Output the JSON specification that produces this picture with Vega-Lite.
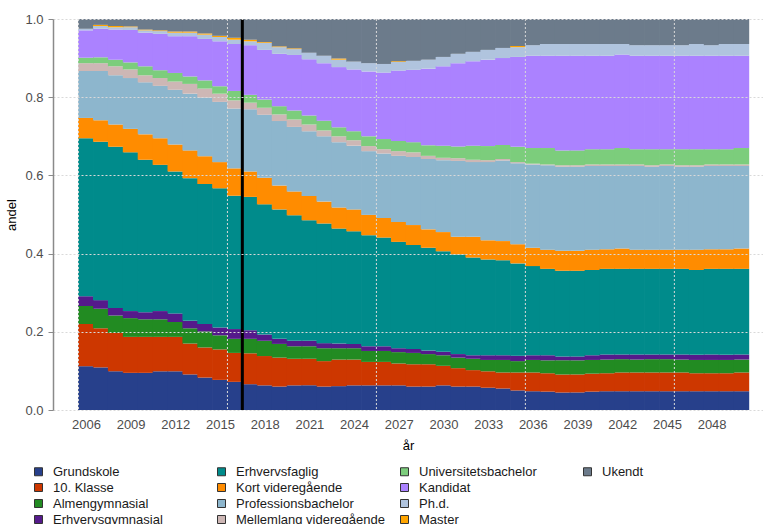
{
  "$schema": "https://vega.github.io/schema/vega-lite/v6.json",
  "width": 710,
  "height": 391,
  "autosize": {"type": "none"},
  "padding": {"left": 53, "top": 19, "right": 0, "bottom": 114},
  "background": "white",
  "config": {
    "view": {"stroke": null},
    "font": "Liberation Sans",
    "axis": {"labelFont": "Liberation Sans", "titleFont": "Liberation Sans"},
    "legend": {"labelFont": "Liberation Sans"}
  },
  "datasets": {
    "levels": [
      {"niveau": "Grundskole", "rank": 1},
      {"niveau": "10. Klasse", "rank": 2},
      {"niveau": "Almengymnasial", "rank": 3},
      {"niveau": "Erhvervsgymnasial", "rank": 4},
      {"niveau": "Erhvervsfaglig", "rank": 5},
      {"niveau": "Kort videregående", "rank": 6},
      {"niveau": "Professionsbachelor", "rank": 7},
      {"niveau": "Mellemlang videregående", "rank": 8},
      {"niveau": "Universitetsbachelor", "rank": 9},
      {"niveau": "Kandidat", "rank": 10},
      {"niveau": "Ph.d.", "rank": 11},
      {"niveau": "Master", "rank": 12},
      {"niveau": "Ukendt", "rank": 13}
    ],
    "shares": [
{"year":2006,"niveau":"Grundskole","andel":0.112},{"year":2006,"niveau":"10. Klasse","andel":0.108},{"year":2006,"niveau":"Almengymnasial","andel":0.046},{"year":2006,"niveau":"Erhvervsgymnasial","andel":0.025},{"year":2006,"niveau":"Erhvervsfaglig","andel":0.404},{"year":2006,"niveau":"Kort videregående","andel":0.052},{"year":2006,"niveau":"Professionsbachelor","andel":0.120},{"year":2006,"niveau":"Mellemlang videregående","andel":0.020},{"year":2006,"niveau":"Universitetsbachelor","andel":0.014},{"year":2006,"niveau":"Kandidat","andel":0.070},{"year":2006,"niveau":"Ph.d.","andel":0.004},{"year":2006,"niveau":"Master","andel":0.000},{"year":2006,"niveau":"Ukendt","andel":0.025},
{"year":2007,"niveau":"Grundskole","andel":0.109},{"year":2007,"niveau":"10. Klasse","andel":0.100},{"year":2007,"niveau":"Almengymnasial","andel":0.050},{"year":2007,"niveau":"Erhvervsgymnasial","andel":0.022},{"year":2007,"niveau":"Erhvervsfaglig","andel":0.405},{"year":2007,"niveau":"Kort videregående","andel":0.055},{"year":2007,"niveau":"Professionsbachelor","andel":0.126},{"year":2007,"niveau":"Mellemlang videregående","andel":0.020},{"year":2007,"niveau":"Universitetsbachelor","andel":0.015},{"year":2007,"niveau":"Kandidat","andel":0.073},{"year":2007,"niveau":"Ph.d.","andel":0.007},{"year":2007,"niveau":"Master","andel":0.003},{"year":2007,"niveau":"Ukendt","andel":0.015},
{"year":2008,"niveau":"Grundskole","andel":0.099},{"year":2008,"niveau":"10. Klasse","andel":0.098},{"year":2008,"niveau":"Almengymnasial","andel":0.045},{"year":2008,"niveau":"Erhvervsgymnasial","andel":0.019},{"year":2008,"niveau":"Erhvervsfaglig","andel":0.412},{"year":2008,"niveau":"Kort videregående","andel":0.057},{"year":2008,"niveau":"Professionsbachelor","andel":0.126},{"year":2008,"niveau":"Mellemlang videregående","andel":0.023},{"year":2008,"niveau":"Universitetsbachelor","andel":0.017},{"year":2008,"niveau":"Kandidat","andel":0.077},{"year":2008,"niveau":"Ph.d.","andel":0.006},{"year":2008,"niveau":"Master","andel":0.003},{"year":2008,"niveau":"Ukendt","andel":0.018},
{"year":2009,"niveau":"Grundskole","andel":0.095},{"year":2009,"niveau":"10. Klasse","andel":0.092},{"year":2009,"niveau":"Almengymnasial","andel":0.048},{"year":2009,"niveau":"Erhvervsgymnasial","andel":0.018},{"year":2009,"niveau":"Erhvervsfaglig","andel":0.406},{"year":2009,"niveau":"Kort videregående","andel":0.060},{"year":2009,"niveau":"Professionsbachelor","andel":0.130},{"year":2009,"niveau":"Mellemlang videregående","andel":0.022},{"year":2009,"niveau":"Universitetsbachelor","andel":0.018},{"year":2009,"niveau":"Kandidat","andel":0.083},{"year":2009,"niveau":"Ph.d.","andel":0.007},{"year":2009,"niveau":"Master","andel":0.002},{"year":2009,"niveau":"Ukendt","andel":0.019},
{"year":2010,"niveau":"Grundskole","andel":0.095},{"year":2010,"niveau":"10. Klasse","andel":0.092},{"year":2010,"niveau":"Almengymnasial","andel":0.045},{"year":2010,"niveau":"Erhvervsgymnasial","andel":0.018},{"year":2010,"niveau":"Erhvervsfaglig","andel":0.390},{"year":2010,"niveau":"Kort videregående","andel":0.065},{"year":2010,"niveau":"Professionsbachelor","andel":0.133},{"year":2010,"niveau":"Mellemlang videregående","andel":0.018},{"year":2010,"niveau":"Universitetsbachelor","andel":0.023},{"year":2010,"niveau":"Kandidat","andel":0.086},{"year":2010,"niveau":"Ph.d.","andel":0.006},{"year":2010,"niveau":"Master","andel":0.002},{"year":2010,"niveau":"Ukendt","andel":0.027},
{"year":2011,"niveau":"Grundskole","andel":0.099},{"year":2011,"niveau":"10. Klasse","andel":0.088},{"year":2011,"niveau":"Almengymnasial","andel":0.045},{"year":2011,"niveau":"Erhvervsgymnasial","andel":0.021},{"year":2011,"niveau":"Erhvervsfaglig","andel":0.374},{"year":2011,"niveau":"Kort videregående","andel":0.068},{"year":2011,"niveau":"Professionsbachelor","andel":0.134},{"year":2011,"niveau":"Mellemlang videregående","andel":0.020},{"year":2011,"niveau":"Universitetsbachelor","andel":0.020},{"year":2011,"niveau":"Kandidat","andel":0.093},{"year":2011,"niveau":"Ph.d.","andel":0.007},{"year":2011,"niveau":"Master","andel":0.002},{"year":2011,"niveau":"Ukendt","andel":0.029},
{"year":2012,"niveau":"Grundskole","andel":0.099},{"year":2012,"niveau":"10. Klasse","andel":0.088},{"year":2012,"niveau":"Almengymnasial","andel":0.038},{"year":2012,"niveau":"Erhvervsgymnasial","andel":0.022},{"year":2012,"niveau":"Erhvervsfaglig","andel":0.363},{"year":2012,"niveau":"Kort videregående","andel":0.069},{"year":2012,"niveau":"Professionsbachelor","andel":0.140},{"year":2012,"niveau":"Mellemlang videregående","andel":0.021},{"year":2012,"niveau":"Universitetsbachelor","andel":0.022},{"year":2012,"niveau":"Kandidat","andel":0.094},{"year":2012,"niveau":"Ph.d.","andel":0.009},{"year":2012,"niveau":"Master","andel":0.003},{"year":2012,"niveau":"Ukendt","andel":0.032},
{"year":2013,"niveau":"Grundskole","andel":0.091},{"year":2013,"niveau":"10. Klasse","andel":0.079},{"year":2013,"niveau":"Almengymnasial","andel":0.039},{"year":2013,"niveau":"Erhvervsgymnasial","andel":0.019},{"year":2013,"niveau":"Erhvervsfaglig","andel":0.365},{"year":2013,"niveau":"Kort videregående","andel":0.071},{"year":2013,"niveau":"Professionsbachelor","andel":0.145},{"year":2013,"niveau":"Mellemlang videregående","andel":0.025},{"year":2013,"niveau":"Universitetsbachelor","andel":0.019},{"year":2013,"niveau":"Kandidat","andel":0.103},{"year":2013,"niveau":"Ph.d.","andel":0.009},{"year":2013,"niveau":"Master","andel":0.003},{"year":2013,"niveau":"Ukendt","andel":0.032},
{"year":2014,"niveau":"Grundskole","andel":0.083},{"year":2014,"niveau":"10. Klasse","andel":0.077},{"year":2014,"niveau":"Almengymnasial","andel":0.041},{"year":2014,"niveau":"Erhvervsgymnasial","andel":0.019},{"year":2014,"niveau":"Erhvervsfaglig","andel":0.358},{"year":2014,"niveau":"Kort videregående","andel":0.071},{"year":2014,"niveau":"Professionsbachelor","andel":0.150},{"year":2014,"niveau":"Mellemlang videregående","andel":0.023},{"year":2014,"niveau":"Universitetsbachelor","andel":0.021},{"year":2014,"niveau":"Kandidat","andel":0.106},{"year":2014,"niveau":"Ph.d.","andel":0.011},{"year":2014,"niveau":"Master","andel":0.003},{"year":2014,"niveau":"Ukendt","andel":0.037},
{"year":2015,"niveau":"Grundskole","andel":0.077},{"year":2015,"niveau":"10. Klasse","andel":0.078},{"year":2015,"niveau":"Almengymnasial","andel":0.036},{"year":2015,"niveau":"Erhvervsgymnasial","andel":0.020},{"year":2015,"niveau":"Erhvervsfaglig","andel":0.356},{"year":2015,"niveau":"Kort videregående","andel":0.067},{"year":2015,"niveau":"Professionsbachelor","andel":0.154},{"year":2015,"niveau":"Mellemlang videregående","andel":0.021},{"year":2015,"niveau":"Universitetsbachelor","andel":0.019},{"year":2015,"niveau":"Kandidat","andel":0.115},{"year":2015,"niveau":"Ph.d.","andel":0.011},{"year":2015,"niveau":"Master","andel":0.003},{"year":2015,"niveau":"Ukendt","andel":0.043},
{"year":2016,"niveau":"Grundskole","andel":0.072},{"year":2016,"niveau":"10. Klasse","andel":0.074},{"year":2016,"niveau":"Almengymnasial","andel":0.036},{"year":2016,"niveau":"Erhvervsgymnasial","andel":0.025},{"year":2016,"niveau":"Erhvervsfaglig","andel":0.341},{"year":2016,"niveau":"Kort videregående","andel":0.070},{"year":2016,"niveau":"Professionsbachelor","andel":0.153},{"year":2016,"niveau":"Mellemlang videregående","andel":0.021},{"year":2016,"niveau":"Universitetsbachelor","andel":0.024},{"year":2016,"niveau":"Kandidat","andel":0.120},{"year":2016,"niveau":"Ph.d.","andel":0.011},{"year":2016,"niveau":"Master","andel":0.005},{"year":2016,"niveau":"Ukendt","andel":0.048},
{"year":2017,"niveau":"Grundskole","andel":0.066},{"year":2017,"niveau":"10. Klasse","andel":0.079},{"year":2017,"niveau":"Almengymnasial","andel":0.037},{"year":2017,"niveau":"Erhvervsgymnasial","andel":0.022},{"year":2017,"niveau":"Erhvervsfaglig","andel":0.341},{"year":2017,"niveau":"Kort videregående","andel":0.065},{"year":2017,"niveau":"Professionsbachelor","andel":0.159},{"year":2017,"niveau":"Mellemlang videregående","andel":0.017},{"year":2017,"niveau":"Universitetsbachelor","andel":0.020},{"year":2017,"niveau":"Kandidat","andel":0.127},{"year":2017,"niveau":"Ph.d.","andel":0.010},{"year":2017,"niveau":"Master","andel":0.004},{"year":2017,"niveau":"Ukendt","andel":0.053},
{"year":2018,"niveau":"Grundskole","andel":0.063},{"year":2018,"niveau":"10. Klasse","andel":0.075},{"year":2018,"niveau":"Almengymnasial","andel":0.039},{"year":2018,"niveau":"Erhvervsgymnasial","andel":0.016},{"year":2018,"niveau":"Erhvervsfaglig","andel":0.333},{"year":2018,"niveau":"Kort videregående","andel":0.068},{"year":2018,"niveau":"Professionsbachelor","andel":0.161},{"year":2018,"niveau":"Mellemlang videregående","andel":0.018},{"year":2018,"niveau":"Universitetsbachelor","andel":0.021},{"year":2018,"niveau":"Kandidat","andel":0.127},{"year":2018,"niveau":"Ph.d.","andel":0.018},{"year":2018,"niveau":"Master","andel":0.002},{"year":2018,"niveau":"Ukendt","andel":0.059},
{"year":2019,"niveau":"Grundskole","andel":0.060},{"year":2019,"niveau":"10. Klasse","andel":0.074},{"year":2019,"niveau":"Almengymnasial","andel":0.035},{"year":2019,"niveau":"Erhvervsgymnasial","andel":0.013},{"year":2019,"niveau":"Erhvervsfaglig","andel":0.331},{"year":2019,"niveau":"Kort videregående","andel":0.061},{"year":2019,"niveau":"Professionsbachelor","andel":0.165},{"year":2019,"niveau":"Mellemlang videregående","andel":0.017},{"year":2019,"niveau":"Universitetsbachelor","andel":0.021},{"year":2019,"niveau":"Kandidat","andel":0.134},{"year":2019,"niveau":"Ph.d.","andel":0.017},{"year":2019,"niveau":"Master","andel":0.002},{"year":2019,"niveau":"Ukendt","andel":0.070},
{"year":2020,"niveau":"Grundskole","andel":0.063},{"year":2020,"niveau":"10. Klasse","andel":0.068},{"year":2020,"niveau":"Almengymnasial","andel":0.032},{"year":2020,"niveau":"Erhvervsgymnasial","andel":0.014},{"year":2020,"niveau":"Erhvervsfaglig","andel":0.321},{"year":2020,"niveau":"Kort videregående","andel":0.061},{"year":2020,"niveau":"Professionsbachelor","andel":0.165},{"year":2020,"niveau":"Mellemlang videregående","andel":0.019},{"year":2020,"niveau":"Universitetsbachelor","andel":0.023},{"year":2020,"niveau":"Kandidat","andel":0.142},{"year":2020,"niveau":"Ph.d.","andel":0.015},{"year":2020,"niveau":"Master","andel":0.002},{"year":2020,"niveau":"Ukendt","andel":0.075},
{"year":2021,"niveau":"Grundskole","andel":0.063},{"year":2021,"niveau":"10. Klasse","andel":0.068},{"year":2021,"niveau":"Almengymnasial","andel":0.032},{"year":2021,"niveau":"Erhvervsgymnasial","andel":0.014},{"year":2021,"niveau":"Erhvervsfaglig","andel":0.308},{"year":2021,"niveau":"Kort videregående","andel":0.062},{"year":2021,"niveau":"Professionsbachelor","andel":0.166},{"year":2021,"niveau":"Mellemlang videregående","andel":0.017},{"year":2021,"niveau":"Universitetsbachelor","andel":0.023},{"year":2021,"niveau":"Kandidat","andel":0.144},{"year":2021,"niveau":"Ph.d.","andel":0.017},{"year":2021,"niveau":"Master","andel":0.000},{"year":2021,"niveau":"Ukendt","andel":0.086},
{"year":2022,"niveau":"Grundskole","andel":0.060},{"year":2022,"niveau":"10. Klasse","andel":0.065},{"year":2022,"niveau":"Almengymnasial","andel":0.033},{"year":2022,"niveau":"Erhvervsgymnasial","andel":0.013},{"year":2022,"niveau":"Erhvervsfaglig","andel":0.306},{"year":2022,"niveau":"Kort videregående","andel":0.056},{"year":2022,"niveau":"Professionsbachelor","andel":0.167},{"year":2022,"niveau":"Mellemlang videregående","andel":0.015},{"year":2022,"niveau":"Universitetsbachelor","andel":0.025},{"year":2022,"niveau":"Kandidat","andel":0.147},{"year":2022,"niveau":"Ph.d.","andel":0.019},{"year":2022,"niveau":"Master","andel":0.000},{"year":2022,"niveau":"Ukendt","andel":0.094},
{"year":2023,"niveau":"Grundskole","andel":0.061},{"year":2023,"niveau":"10. Klasse","andel":0.068},{"year":2023,"niveau":"Almengymnasial","andel":0.029},{"year":2023,"niveau":"Erhvervsgymnasial","andel":0.012},{"year":2023,"niveau":"Erhvervsfaglig","andel":0.294},{"year":2023,"niveau":"Kort videregående","andel":0.054},{"year":2023,"niveau":"Professionsbachelor","andel":0.167},{"year":2023,"niveau":"Mellemlang videregående","andel":0.015},{"year":2023,"niveau":"Universitetsbachelor","andel":0.023},{"year":2023,"niveau":"Kandidat","andel":0.154},{"year":2023,"niveau":"Ph.d.","andel":0.019},{"year":2023,"niveau":"Master","andel":0.003},{"year":2023,"niveau":"Ukendt","andel":0.101},
{"year":2024,"niveau":"Grundskole","andel":0.063},{"year":2024,"niveau":"10. Klasse","andel":0.066},{"year":2024,"niveau":"Almengymnasial","andel":0.029},{"year":2024,"niveau":"Erhvervsgymnasial","andel":0.011},{"year":2024,"niveau":"Erhvervsfaglig","andel":0.288},{"year":2024,"niveau":"Kort videregående","andel":0.056},{"year":2024,"niveau":"Professionsbachelor","andel":0.163},{"year":2024,"niveau":"Mellemlang videregående","andel":0.014},{"year":2024,"niveau":"Universitetsbachelor","andel":0.023},{"year":2024,"niveau":"Kandidat","andel":0.158},{"year":2024,"niveau":"Ph.d.","andel":0.020},{"year":2024,"niveau":"Master","andel":0.000},{"year":2024,"niveau":"Ukendt","andel":0.109},
{"year":2025,"niveau":"Grundskole","andel":0.063},{"year":2025,"niveau":"10. Klasse","andel":0.060},{"year":2025,"niveau":"Almengymnasial","andel":0.028},{"year":2025,"niveau":"Erhvervsgymnasial","andel":0.012},{"year":2025,"niveau":"Erhvervsfaglig","andel":0.284},{"year":2025,"niveau":"Kort videregående","andel":0.052},{"year":2025,"niveau":"Professionsbachelor","andel":0.163},{"year":2025,"niveau":"Mellemlang videregående","andel":0.013},{"year":2025,"niveau":"Universitetsbachelor","andel":0.025},{"year":2025,"niveau":"Kandidat","andel":0.166},{"year":2025,"niveau":"Ph.d.","andel":0.021},{"year":2025,"niveau":"Master","andel":0.000},{"year":2025,"niveau":"Ukendt","andel":0.113},
{"year":2026,"niveau":"Grundskole","andel":0.063},{"year":2026,"niveau":"10. Klasse","andel":0.060},{"year":2026,"niveau":"Almengymnasial","andel":0.028},{"year":2026,"niveau":"Erhvervsgymnasial","andel":0.012},{"year":2026,"niveau":"Erhvervsfaglig","andel":0.278},{"year":2026,"niveau":"Kort videregående","andel":0.050},{"year":2026,"niveau":"Professionsbachelor","andel":0.165},{"year":2026,"niveau":"Mellemlang videregående","andel":0.011},{"year":2026,"niveau":"Universitetsbachelor","andel":0.026},{"year":2026,"niveau":"Kandidat","andel":0.170},{"year":2026,"niveau":"Ph.d.","andel":0.022},{"year":2026,"niveau":"Master","andel":0.000},{"year":2026,"niveau":"Ukendt","andel":0.115},
{"year":2027,"niveau":"Grundskole","andel":0.063},{"year":2027,"niveau":"10. Klasse","andel":0.056},{"year":2027,"niveau":"Almengymnasial","andel":0.029},{"year":2027,"niveau":"Erhvervsgymnasial","andel":0.010},{"year":2027,"niveau":"Erhvervsfaglig","andel":0.272},{"year":2027,"niveau":"Kort videregående","andel":0.051},{"year":2027,"niveau":"Professionsbachelor","andel":0.169},{"year":2027,"niveau":"Mellemlang videregående","andel":0.012},{"year":2027,"niveau":"Universitetsbachelor","andel":0.026},{"year":2027,"niveau":"Kandidat","andel":0.180},{"year":2027,"niveau":"Ph.d.","andel":0.022},{"year":2027,"niveau":"Master","andel":0.002},{"year":2027,"niveau":"Ukendt","andel":0.108},
{"year":2028,"niveau":"Grundskole","andel":0.060},{"year":2028,"niveau":"10. Klasse","andel":0.057},{"year":2028,"niveau":"Almengymnasial","andel":0.029},{"year":2028,"niveau":"Erhvervsgymnasial","andel":0.010},{"year":2028,"niveau":"Erhvervsfaglig","andel":0.266},{"year":2028,"niveau":"Kort videregående","andel":0.051},{"year":2028,"niveau":"Professionsbachelor","andel":0.174},{"year":2028,"niveau":"Mellemlang videregående","andel":0.012},{"year":2028,"niveau":"Universitetsbachelor","andel":0.026},{"year":2028,"niveau":"Kandidat","andel":0.185},{"year":2028,"niveau":"Ph.d.","andel":0.023},{"year":2028,"niveau":"Master","andel":0.000},{"year":2028,"niveau":"Ukendt","andel":0.107},
{"year":2029,"niveau":"Grundskole","andel":0.060},{"year":2029,"niveau":"10. Klasse","andel":0.057},{"year":2029,"niveau":"Almengymnasial","andel":0.026},{"year":2029,"niveau":"Erhvervsgymnasial","andel":0.009},{"year":2029,"niveau":"Erhvervsfaglig","andel":0.263},{"year":2029,"niveau":"Kort videregående","andel":0.047},{"year":2029,"niveau":"Professionsbachelor","andel":0.180},{"year":2029,"niveau":"Mellemlang videregående","andel":0.008},{"year":2029,"niveau":"Universitetsbachelor","andel":0.027},{"year":2029,"niveau":"Kandidat","andel":0.196},{"year":2029,"niveau":"Ph.d.","andel":0.023},{"year":2029,"niveau":"Master","andel":0.000},{"year":2029,"niveau":"Ukendt","andel":0.104},
{"year":2030,"niveau":"Grundskole","andel":0.063},{"year":2030,"niveau":"10. Klasse","andel":0.050},{"year":2030,"niveau":"Almengymnasial","andel":0.027},{"year":2030,"niveau":"Erhvervsgymnasial","andel":0.009},{"year":2030,"niveau":"Erhvervsfaglig","andel":0.257},{"year":2030,"niveau":"Kort videregående","andel":0.049},{"year":2030,"niveau":"Professionsbachelor","andel":0.184},{"year":2030,"niveau":"Mellemlang videregående","andel":0.006},{"year":2030,"niveau":"Universitetsbachelor","andel":0.031},{"year":2030,"niveau":"Kandidat","andel":0.203},{"year":2030,"niveau":"Ph.d.","andel":0.024},{"year":2030,"niveau":"Master","andel":0.000},{"year":2030,"niveau":"Ukendt","andel":0.097},
{"year":2031,"niveau":"Grundskole","andel":0.060},{"year":2031,"niveau":"10. Klasse","andel":0.047},{"year":2031,"niveau":"Almengymnasial","andel":0.027},{"year":2031,"niveau":"Erhvervsgymnasial","andel":0.009},{"year":2031,"niveau":"Erhvervsfaglig","andel":0.255},{"year":2031,"niveau":"Kort videregående","andel":0.045},{"year":2031,"niveau":"Professionsbachelor","andel":0.194},{"year":2031,"niveau":"Mellemlang videregående","andel":0.007},{"year":2031,"niveau":"Universitetsbachelor","andel":0.030},{"year":2031,"niveau":"Kandidat","andel":0.213},{"year":2031,"niveau":"Ph.d.","andel":0.024},{"year":2031,"niveau":"Master","andel":0.000},{"year":2031,"niveau":"Ukendt","andel":0.089},
{"year":2032,"niveau":"Grundskole","andel":0.060},{"year":2032,"niveau":"10. Klasse","andel":0.042},{"year":2032,"niveau":"Almengymnasial","andel":0.029},{"year":2032,"niveau":"Erhvervsgymnasial","andel":0.009},{"year":2032,"niveau":"Erhvervsfaglig","andel":0.250},{"year":2032,"niveau":"Kort videregående","andel":0.053},{"year":2032,"niveau":"Professionsbachelor","andel":0.191},{"year":2032,"niveau":"Mellemlang videregående","andel":0.006},{"year":2032,"niveau":"Universitetsbachelor","andel":0.036},{"year":2032,"niveau":"Kandidat","andel":0.216},{"year":2032,"niveau":"Ph.d.","andel":0.024},{"year":2032,"niveau":"Master","andel":0.000},{"year":2032,"niveau":"Ukendt","andel":0.084},
{"year":2033,"niveau":"Grundskole","andel":0.057},{"year":2033,"niveau":"10. Klasse","andel":0.042},{"year":2033,"niveau":"Almengymnasial","andel":0.029},{"year":2033,"niveau":"Erhvervsgymnasial","andel":0.012},{"year":2033,"niveau":"Erhvervsfaglig","andel":0.245},{"year":2033,"niveau":"Kort videregående","andel":0.049},{"year":2033,"niveau":"Professionsbachelor","andel":0.200},{"year":2033,"niveau":"Mellemlang videregående","andel":0.005},{"year":2033,"niveau":"Universitetsbachelor","andel":0.036},{"year":2033,"niveau":"Kandidat","andel":0.221},{"year":2033,"niveau":"Ph.d.","andel":0.025},{"year":2033,"niveau":"Master","andel":0.000},{"year":2033,"niveau":"Ukendt","andel":0.079},
{"year":2034,"niveau":"Grundskole","andel":0.055},{"year":2034,"niveau":"10. Klasse","andel":0.041},{"year":2034,"niveau":"Almengymnasial","andel":0.032},{"year":2034,"niveau":"Erhvervsgymnasial","andel":0.012},{"year":2034,"niveau":"Erhvervsfaglig","andel":0.243},{"year":2034,"niveau":"Kort videregående","andel":0.049},{"year":2034,"niveau":"Professionsbachelor","andel":0.206},{"year":2034,"niveau":"Mellemlang videregående","andel":0.004},{"year":2034,"niveau":"Universitetsbachelor","andel":0.036},{"year":2034,"niveau":"Kandidat","andel":0.222},{"year":2034,"niveau":"Ph.d.","andel":0.026},{"year":2034,"niveau":"Master","andel":0.000},{"year":2034,"niveau":"Ukendt","andel":0.074},
{"year":2035,"niveau":"Grundskole","andel":0.050},{"year":2035,"niveau":"10. Klasse","andel":0.046},{"year":2035,"niveau":"Almengymnasial","andel":0.029},{"year":2035,"niveau":"Erhvervsgymnasial","andel":0.014},{"year":2035,"niveau":"Erhvervsfaglig","andel":0.236},{"year":2035,"niveau":"Kort videregående","andel":0.049},{"year":2035,"niveau":"Professionsbachelor","andel":0.207},{"year":2035,"niveau":"Mellemlang videregående","andel":0.003},{"year":2035,"niveau":"Universitetsbachelor","andel":0.039},{"year":2035,"niveau":"Kandidat","andel":0.230},{"year":2035,"niveau":"Ph.d.","andel":0.025},{"year":2035,"niveau":"Master","andel":0.003},{"year":2035,"niveau":"Ukendt","andel":0.069},
{"year":2036,"niveau":"Grundskole","andel":0.048},{"year":2036,"niveau":"10. Klasse","andel":0.048},{"year":2036,"niveau":"Almengymnasial","andel":0.032},{"year":2036,"niveau":"Erhvervsgymnasial","andel":0.012},{"year":2036,"niveau":"Erhvervsfaglig","andel":0.228},{"year":2036,"niveau":"Kort videregående","andel":0.047},{"year":2036,"niveau":"Professionsbachelor","andel":0.213},{"year":2036,"niveau":"Mellemlang videregående","andel":0.002},{"year":2036,"niveau":"Universitetsbachelor","andel":0.040},{"year":2036,"niveau":"Kandidat","andel":0.236},{"year":2036,"niveau":"Ph.d.","andel":0.027},{"year":2036,"niveau":"Master","andel":0.000},{"year":2036,"niveau":"Ukendt","andel":0.067},
{"year":2037,"niveau":"Grundskole","andel":0.047},{"year":2037,"niveau":"10. Klasse","andel":0.047},{"year":2037,"niveau":"Almengymnasial","andel":0.033},{"year":2037,"niveau":"Erhvervsgymnasial","andel":0.013},{"year":2037,"niveau":"Erhvervsfaglig","andel":0.221},{"year":2037,"niveau":"Kort videregående","andel":0.049},{"year":2037,"niveau":"Professionsbachelor","andel":0.216},{"year":2037,"niveau":"Mellemlang videregående","andel":0.002},{"year":2037,"niveau":"Universitetsbachelor","andel":0.042},{"year":2037,"niveau":"Kandidat","andel":0.236},{"year":2037,"niveau":"Ph.d.","andel":0.030},{"year":2037,"niveau":"Master","andel":0.000},{"year":2037,"niveau":"Ukendt","andel":0.064},
{"year":2038,"niveau":"Grundskole","andel":0.045},{"year":2038,"niveau":"10. Klasse","andel":0.046},{"year":2038,"niveau":"Almengymnasial","andel":0.036},{"year":2038,"niveau":"Erhvervsgymnasial","andel":0.010},{"year":2038,"niveau":"Erhvervsfaglig","andel":0.219},{"year":2038,"niveau":"Kort videregående","andel":0.051},{"year":2038,"niveau":"Professionsbachelor","andel":0.215},{"year":2038,"niveau":"Mellemlang videregående","andel":0.004},{"year":2038,"niveau":"Universitetsbachelor","andel":0.038},{"year":2038,"niveau":"Kandidat","andel":0.242},{"year":2038,"niveau":"Ph.d.","andel":0.030},{"year":2038,"niveau":"Master","andel":0.000},{"year":2038,"niveau":"Ukendt","andel":0.064},
{"year":2039,"niveau":"Grundskole","andel":0.045},{"year":2039,"niveau":"10. Klasse","andel":0.046},{"year":2039,"niveau":"Almengymnasial","andel":0.036},{"year":2039,"niveau":"Erhvervsgymnasial","andel":0.010},{"year":2039,"niveau":"Erhvervsfaglig","andel":0.219},{"year":2039,"niveau":"Kort videregående","andel":0.051},{"year":2039,"niveau":"Professionsbachelor","andel":0.215},{"year":2039,"niveau":"Mellemlang videregående","andel":0.004},{"year":2039,"niveau":"Universitetsbachelor","andel":0.038},{"year":2039,"niveau":"Kandidat","andel":0.242},{"year":2039,"niveau":"Ph.d.","andel":0.030},{"year":2039,"niveau":"Master","andel":0.000},{"year":2039,"niveau":"Ukendt","andel":0.064},
{"year":2040,"niveau":"Grundskole","andel":0.047},{"year":2040,"niveau":"10. Klasse","andel":0.046},{"year":2040,"niveau":"Almengymnasial","andel":0.035},{"year":2040,"niveau":"Erhvervsgymnasial","andel":0.012},{"year":2040,"niveau":"Erhvervsfaglig","andel":0.218},{"year":2040,"niveau":"Kort videregående","andel":0.052},{"year":2040,"niveau":"Professionsbachelor","andel":0.214},{"year":2040,"niveau":"Mellemlang videregående","andel":0.004},{"year":2040,"niveau":"Universitetsbachelor","andel":0.039},{"year":2040,"niveau":"Kandidat","andel":0.239},{"year":2040,"niveau":"Ph.d.","andel":0.030},{"year":2040,"niveau":"Master","andel":0.000},{"year":2040,"niveau":"Ukendt","andel":0.064},
{"year":2041,"niveau":"Grundskole","andel":0.048},{"year":2041,"niveau":"10. Klasse","andel":0.046},{"year":2041,"niveau":"Almengymnasial","andel":0.035},{"year":2041,"niveau":"Erhvervsgymnasial","andel":0.013},{"year":2041,"niveau":"Erhvervsfaglig","andel":0.219},{"year":2041,"niveau":"Kort videregående","andel":0.050},{"year":2041,"niveau":"Professionsbachelor","andel":0.213},{"year":2041,"niveau":"Mellemlang videregående","andel":0.004},{"year":2041,"niveau":"Universitetsbachelor","andel":0.039},{"year":2041,"niveau":"Kandidat","andel":0.239},{"year":2041,"niveau":"Ph.d.","andel":0.030},{"year":2041,"niveau":"Master","andel":0.000},{"year":2041,"niveau":"Ukendt","andel":0.064},
{"year":2042,"niveau":"Grundskole","andel":0.048},{"year":2042,"niveau":"10. Klasse","andel":0.048},{"year":2042,"niveau":"Almengymnasial","andel":0.034},{"year":2042,"niveau":"Erhvervsgymnasial","andel":0.012},{"year":2042,"niveau":"Erhvervsfaglig","andel":0.219},{"year":2042,"niveau":"Kort videregående","andel":0.052},{"year":2042,"niveau":"Professionsbachelor","andel":0.211},{"year":2042,"niveau":"Mellemlang videregående","andel":0.004},{"year":2042,"niveau":"Universitetsbachelor","andel":0.042},{"year":2042,"niveau":"Kandidat","andel":0.239},{"year":2042,"niveau":"Ph.d.","andel":0.027},{"year":2042,"niveau":"Master","andel":0.000},{"year":2042,"niveau":"Ukendt","andel":0.064},
{"year":2043,"niveau":"Grundskole","andel":0.048},{"year":2043,"niveau":"10. Klasse","andel":0.048},{"year":2043,"niveau":"Almengymnasial","andel":0.033},{"year":2043,"niveau":"Erhvervsgymnasial","andel":0.013},{"year":2043,"niveau":"Erhvervsfaglig","andel":0.219},{"year":2043,"niveau":"Kort videregående","andel":0.049},{"year":2043,"niveau":"Professionsbachelor","andel":0.214},{"year":2043,"niveau":"Mellemlang videregående","andel":0.004},{"year":2043,"niveau":"Universitetsbachelor","andel":0.039},{"year":2043,"niveau":"Kandidat","andel":0.239},{"year":2043,"niveau":"Ph.d.","andel":0.027},{"year":2043,"niveau":"Master","andel":0.000},{"year":2043,"niveau":"Ukendt","andel":0.067},
{"year":2044,"niveau":"Grundskole","andel":0.048},{"year":2044,"niveau":"10. Klasse","andel":0.048},{"year":2044,"niveau":"Almengymnasial","andel":0.034},{"year":2044,"niveau":"Erhvervsgymnasial","andel":0.012},{"year":2044,"niveau":"Erhvervsfaglig","andel":0.219},{"year":2044,"niveau":"Kort videregående","andel":0.049},{"year":2044,"niveau":"Professionsbachelor","andel":0.212},{"year":2044,"niveau":"Mellemlang videregående","andel":0.004},{"year":2044,"niveau":"Universitetsbachelor","andel":0.041},{"year":2044,"niveau":"Kandidat","andel":0.239},{"year":2044,"niveau":"Ph.d.","andel":0.027},{"year":2044,"niveau":"Master","andel":0.000},{"year":2044,"niveau":"Ukendt","andel":0.067},
{"year":2045,"niveau":"Grundskole","andel":0.048},{"year":2045,"niveau":"10. Klasse","andel":0.048},{"year":2045,"niveau":"Almengymnasial","andel":0.034},{"year":2045,"niveau":"Erhvervsgymnasial","andel":0.012},{"year":2045,"niveau":"Erhvervsfaglig","andel":0.219},{"year":2045,"niveau":"Kort videregående","andel":0.049},{"year":2045,"niveau":"Professionsbachelor","andel":0.214},{"year":2045,"niveau":"Mellemlang videregående","andel":0.004},{"year":2045,"niveau":"Universitetsbachelor","andel":0.039},{"year":2045,"niveau":"Kandidat","andel":0.239},{"year":2045,"niveau":"Ph.d.","andel":0.027},{"year":2045,"niveau":"Master","andel":0.000},{"year":2045,"niveau":"Ukendt","andel":0.067},
{"year":2046,"niveau":"Grundskole","andel":0.048},{"year":2046,"niveau":"10. Klasse","andel":0.048},{"year":2046,"niveau":"Almengymnasial","andel":0.033},{"year":2046,"niveau":"Erhvervsgymnasial","andel":0.013},{"year":2046,"niveau":"Erhvervsfaglig","andel":0.219},{"year":2046,"niveau":"Kort videregående","andel":0.049},{"year":2046,"niveau":"Professionsbachelor","andel":0.212},{"year":2046,"niveau":"Mellemlang videregående","andel":0.004},{"year":2046,"niveau":"Universitetsbachelor","andel":0.041},{"year":2046,"niveau":"Kandidat","andel":0.239},{"year":2046,"niveau":"Ph.d.","andel":0.027},{"year":2046,"niveau":"Master","andel":0.000},{"year":2046,"niveau":"Ukendt","andel":0.067},
{"year":2047,"niveau":"Grundskole","andel":0.048},{"year":2047,"niveau":"10. Klasse","andel":0.046},{"year":2047,"niveau":"Almengymnasial","andel":0.034},{"year":2047,"niveau":"Erhvervsgymnasial","andel":0.013},{"year":2047,"niveau":"Erhvervsfaglig","andel":0.217},{"year":2047,"niveau":"Kort videregående","andel":0.052},{"year":2047,"niveau":"Professionsbachelor","andel":0.212},{"year":2047,"niveau":"Mellemlang videregående","andel":0.004},{"year":2047,"niveau":"Universitetsbachelor","andel":0.041},{"year":2047,"niveau":"Kandidat","andel":0.239},{"year":2047,"niveau":"Ph.d.","andel":0.030},{"year":2047,"niveau":"Master","andel":0.000},{"year":2047,"niveau":"Ukendt","andel":0.064},
{"year":2048,"niveau":"Grundskole","andel":0.048},{"year":2048,"niveau":"10. Klasse","andel":0.046},{"year":2048,"niveau":"Almengymnasial","andel":0.034},{"year":2048,"niveau":"Erhvervsgymnasial","andel":0.014},{"year":2048,"niveau":"Erhvervsfaglig","andel":0.219},{"year":2048,"niveau":"Kort videregående","andel":0.050},{"year":2048,"niveau":"Professionsbachelor","andel":0.213},{"year":2048,"niveau":"Mellemlang videregående","andel":0.004},{"year":2048,"niveau":"Universitetsbachelor","andel":0.039},{"year":2048,"niveau":"Kandidat","andel":0.239},{"year":2048,"niveau":"Ph.d.","andel":0.027},{"year":2048,"niveau":"Master","andel":0.000},{"year":2048,"niveau":"Ukendt","andel":0.067},
{"year":2049,"niveau":"Grundskole","andel":0.048},{"year":2049,"niveau":"10. Klasse","andel":0.046},{"year":2049,"niveau":"Almengymnasial","andel":0.034},{"year":2049,"niveau":"Erhvervsgymnasial","andel":0.013},{"year":2049,"niveau":"Erhvervsfaglig","andel":0.220},{"year":2049,"niveau":"Kort videregående","andel":0.050},{"year":2049,"niveau":"Professionsbachelor","andel":0.213},{"year":2049,"niveau":"Mellemlang videregående","andel":0.004},{"year":2049,"niveau":"Universitetsbachelor","andel":0.039},{"year":2049,"niveau":"Kandidat","andel":0.239},{"year":2049,"niveau":"Ph.d.","andel":0.030},{"year":2049,"niveau":"Master","andel":0.000},{"year":2049,"niveau":"Ukendt","andel":0.064},
{"year":2050,"niveau":"Grundskole","andel":0.048},{"year":2050,"niveau":"10. Klasse","andel":0.048},{"year":2050,"niveau":"Almengymnasial","andel":0.033},{"year":2050,"niveau":"Erhvervsgymnasial","andel":0.013},{"year":2050,"niveau":"Erhvervsfaglig","andel":0.219},{"year":2050,"niveau":"Kort videregående","andel":0.052},{"year":2050,"niveau":"Professionsbachelor","andel":0.211},{"year":2050,"niveau":"Mellemlang videregående","andel":0.004},{"year":2050,"niveau":"Universitetsbachelor","andel":0.042},{"year":2050,"niveau":"Kandidat","andel":0.236},{"year":2050,"niveau":"Ph.d.","andel":0.030},{"year":2050,"niveau":"Master","andel":0.000},{"year":2050,"niveau":"Ukendt","andel":0.064}
    ],
    "grid": [{"x": 2005.5}, {"x": 2015.5}, {"x": 2025.5}, {"x": 2035.5}, {"x": 2045.5}],
    "marker": [{"x": 2016.5}]
  },
  "layer": [
    {
      "data": {"name": "shares"},
      "transform": [
        {"lookup": "niveau", "from": {"data": {"name": "levels"}, "key": "niveau", "fields": ["rank"]}}
      ],
      "mark": {"type": "bar", "width": 15.6, "orient": "vertical"},
      "encoding": {
        "x": {
          "field": "year", "type": "quantitative",
          "scale": {"domain": [2003.79, 2051.45], "nice": false, "zero": false, "padding": 0},
          "axis": {
            "title": "år",
            "values": [2006, 2009, 2012, 2015, 2018, 2021, 2024, 2027, 2030, 2033, 2036, 2039, 2042, 2045, 2048],
            "format": "d", "grid": false, "ticks": false, "domain": false,
            "labelPadding": 8, "labelFontSize": 13, "labelColor": "#4d4d4d",
            "titleFontSize": 13, "titleFontWeight": "normal", "titleColor": "#000000", "titlePadding": 8
          }
        },
        "y": {
          "field": "andel", "type": "quantitative", "stack": "zero",
          "scale": {"domain": [0, 1], "nice": false, "padding": 0},
          "axis": {
            "title": "andel",
            "values": [0, 0.2, 0.4, 0.6, 0.8, 1],
            "format": ".1f", "grid": true, "gridColor": "#d9d9d9", "gridDash": [2, 2], "gridWidth": 1,
            "zindex": 1, "domainColor": "#8a8a8a", "domainWidth": 1.5, "tickColor": "#8a8a8a", "tickSize": 5,
            "labelPadding": 5, "labelFontSize": 13, "labelColor": "#4d4d4d",
            "titleFontSize": 13, "titleFontWeight": "normal", "titleColor": "#000000", "titlePadding": 6
          }
        },
        "color": {
          "field": "niveau", "type": "nominal",
          "scale": {
            "domain": ["Grundskole", "Erhvervsfaglig", "Universitetsbachelor", "Ukendt", "10. Klasse", "Kort videregående", "Kandidat", " ", "Almengymnasial", "Professionsbachelor", "Ph.d.", "  ", "Erhvervsgymnasial", "Mellemlang videregående", "Master", "   "],
            "range": ["#27408B", "#008B8B", "#7CCD7C", "#6C7B8B", "#CD3700", "#FF8C00", "#AB82FF", "transparent", "#228B22", "#8DB6CD", "#B0C4DE", "transparent", "#551A8B", "#CDB7B5", "#FFA500", "transparent"]
          },
          "legend": {
            "title": null, "orient": "none", "legendX": -21, "legendY": 446,
            "direction": "horizontal", "columns": 4, "gridAlign": "all",
            "columnPadding": 13, "rowPadding": 2, "padding": 0,
            "symbolType": "square", "symbolSize": 64, "symbolStrokeWidth": 1, "symbolStrokeColor": "#333333",
            "labelFontSize": 13, "labelColor": "#1a1a1a", "labelOffset": 8, "labelLimit": 300,
            "encode": {"symbols": {"update": {"stroke": {"signal": "indexof([' ', '  ', '   '], datum.value) >= 0 ? 'transparent' : '#333333'"}}}}
          }
        },
        "order": {"field": "rank", "type": "quantitative"}
      }
    },
    {
      "data": {"name": "grid"},
      "mark": {"type": "rule", "color": "#d9d9d9", "strokeDash": [2, 2], "strokeWidth": 1},
      "encoding": {
        "x": {"field": "x", "type": "quantitative", "scale": {"domain": [2003.79, 2051.45], "nice": false, "zero": false, "padding": 0}}
      }
    },
    {
      "data": {"name": "marker"},
      "mark": {"type": "rule", "color": "#000000", "strokeWidth": 3},
      "encoding": {
        "x": {"field": "x", "type": "quantitative", "scale": {"domain": [2003.79, 2051.45], "nice": false, "zero": false, "padding": 0}}
      }
    }
  ]
}
